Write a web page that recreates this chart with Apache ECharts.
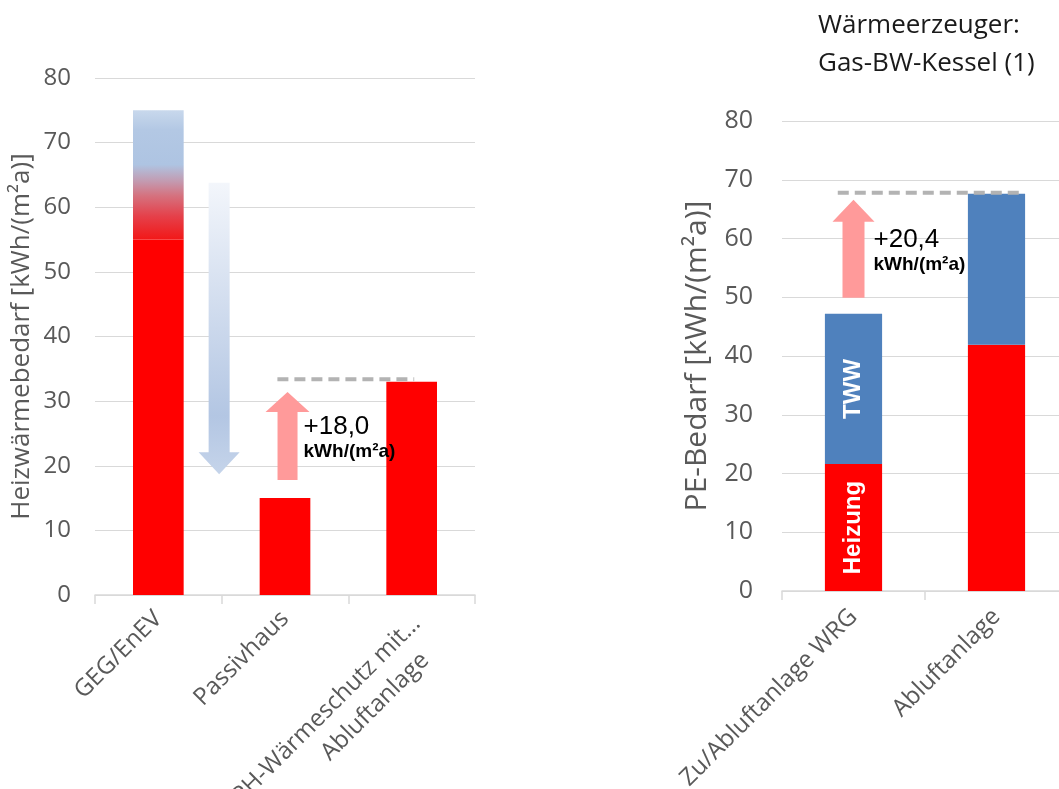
<!DOCTYPE html>
<html>
<head>
<meta charset="utf-8">
<script src="https://cdn.jsdelivr.net/npm/echarts@6/dist/echarts.min.js"></script>
<style>
  html, body { margin: 0; padding: 0; background: #ffffff; }
  #chart { width: 1059px; height: 789px; }
</style>
</head>
<body>
<div id="chart"></div>
<script>
// ---- Left panel: Heizwärmebedarf ----
const hwbCategories = ['GEG/EnEV', 'Passivhaus', 'PH-Wärmeschutz mit…\nAbluftanlage'];
const hwbBase = [55, 15, 33];          // solid red part
const hwbUpper = [20, null, null];     // faded upper part of GEG/EnEV (55 → 75)
const hwbTicks = [0, 10, 20, 30, 40, 50, 60, 70, 80];

// arrows: category position, start value, end value
const hwbReductionArrow = [{ at: 0.48, from: 63.8, to: 18.7 }];
const hwbIncreaseArrow = [{ at: 1.02, from: 17.8, to: 31.4 }];
// dashed reference line: from/to category position, value
const hwbRefLine = [{ x0: 0.94, x1: 2.02, value: 33.4 }];

// ---- Right panel: PE-Bedarf ----
const peCategories = ['Zu/Abluftanlage WRG', 'Abluftanlage'];
const peHeizung = [21.6, 41.9];
const peTww = [25.6, 25.7];
const peTicks = [0, 10, 20, 30, 40, 50, 60, 70, 80];
const peIncreaseArrow = [{ at: 0, from: 49.9, to: 66.6 }];
const peRefLine = [{ x0: -0.11, x1: 1.17, value: 67.8 }];

const hwbDelta = (hwbBase[2] - hwbBase[1]).toFixed(1).replace('.', ',');
const peDelta = ((peHeizung[1] + peTww[1]) - (peHeizung[0] + peTww[0])).toFixed(1).replace('.', ',');
// annotation text: category position, value of first line, value of second line
const hwbNote = [{ at: 1.02, top: 26.0, bottom: 22.1, text: '+' + hwbDelta }];
const peNote = [{ at: 0, top: 59.8, bottom: 55.5, text: '+' + peDelta }];

const RED = '#ff0000';
const BLUE = '#4f81bd';
const GRID_LINE = '#d9d9d9';
const AXIS_TEXT = '#595959';
const SANS = '"Open Sans", "Noto Sans", sans-serif';
const ARIAL = '"Liberation Sans", Arial, sans-serif';

function catX(api, at, value) {
  const p0 = api.coord([0, value]);
  const p1 = api.coord([1, value]);
  return p0[0] + (p1[0] - p0[0]) * at;
}

function arrowSeries(list, xIndex, yIndex, shaft, head, headLen, fill) {
  return {
    type: 'custom',
    xAxisIndex: xIndex,
    yAxisIndex: yIndex,
    z: 5,
    silent: true,
    data: list.map(a => [Math.round(a.at), a.from, a.to]),
    renderItem: (params, api) => {
      const a = list[params.dataIndex];
      const x = catX(api, a.at, a.from);
      const y0 = api.coord([0, a.from])[1];
      const y1 = api.coord([0, a.to])[1];
      const dir = y1 > y0 ? 1 : -1;
      const yb = y1 - dir * headLen;
      return {
        type: 'polygon',
        shape: {
          points: [
            [x - shaft / 2, y0], [x + shaft / 2, y0], [x + shaft / 2, yb],
            [x + head / 2, yb], [x, y1], [x - head / 2, yb], [x - shaft / 2, yb]
          ]
        },
        style: { fill: fill }
      };
    }
  };
}

function refLineSeries(list, xIndex, yIndex) {
  return {
    type: 'custom',
    xAxisIndex: xIndex,
    yAxisIndex: yIndex,
    z: 6,
    silent: true,
    data: list.map(l => [0, l.value]),
    renderItem: (params, api) => {
      const l = list[params.dataIndex];
      const y = api.coord([0, l.value])[1];
      return {
        type: 'line',
        shape: { x1: catX(api, l.x0, l.value), y1: y, x2: catX(api, l.x1, l.value), y2: y },
        style: { stroke: '#b3b3b3', lineWidth: 4, lineDash: [11, 6] }
      };
    }
  };
}

function noteSeries(list, xIndex, yIndex, dx) {
  return {
    type: 'custom',
    xAxisIndex: xIndex,
    yAxisIndex: yIndex,
    z: 7,
    silent: true,
    data: list.map(n => [0, n.top]),
    renderItem: (params, api) => {
      const n = list[params.dataIndex];
      const x = catX(api, n.at, n.top) + dx;
      return {
        type: 'group',
        children: [
          {
            type: 'text',
            style: {
              x: x, y: api.coord([0, n.top])[1], text: n.text,
              fill: '#000', font: '26px ' + ARIAL, textAlign: 'left', textVerticalAlign: 'middle'
            }
          },
          {
            type: 'text',
            style: {
              x: x, y: api.coord([0, n.bottom])[1], text: 'kWh/(m²a)',
              fill: '#000', font: 'bold 19px ' + ARIAL, textAlign: 'left', textVerticalAlign: 'middle'
            }
          }
        ]
      };
    }
  };
}

function valueAxis(gridIndex, fontSize, margin, name, nameSize, nameGap) {
  return {
    type: 'value',
    gridIndex: gridIndex,
    min: 0, max: 80, interval: 10,
    axisLine: { show: false },
    axisTick: { show: false },
    splitLine: { lineStyle: { color: GRID_LINE, width: 1 } },
    axisLabel: { color: AXIS_TEXT, fontSize: fontSize, fontFamily: SANS, margin: margin },
    name: name,
    nameLocation: 'middle',
    nameGap: nameGap,
    nameRotate: 90,
    nameTextStyle: { color: AXIS_TEXT, fontSize: nameSize, fontFamily: SANS }
  };
}

function categoryAxis(gridIndex, data, fontSize, margin) {
  return {
    type: 'category',
    gridIndex: gridIndex,
    data: data,
    axisLine: { lineStyle: { color: GRID_LINE, width: 1.5 } },
    axisTick: { show: true, length: 9, lineStyle: { color: GRID_LINE, width: 1.5 } },
    axisLabel: {
      interval: 0,
      rotate: 45,
      margin: margin,
      color: AXIS_TEXT,
      fontSize: fontSize,
      fontFamily: SANS,
      // two-line labels: a blank spacer row keeps the first line near the axis,
      // the second line is slightly indented from the right
      formatter: v => v.includes('\n')
        ? '{sp|\u00a0}\n' + v.split('\n').map((s, i) => '{l' + i + '|' + s + '}').join('\n')
        : v,
      rich: {
        sp: { fontSize: 10, lineHeight: 46 },
        l0: { fontSize: fontSize, fontFamily: SANS, color: AXIS_TEXT, lineHeight: 32 },
        l1: { fontSize: fontSize, fontFamily: SANS, color: AXIS_TEXT, lineHeight: 32, padding: [0, 20, 0, 0] }
      }
    }
  };
}

const upperGradient = new echarts.graphic.LinearGradient(0, 0, 0, 1, [
  { offset: 0.0, color: '#c8d8ec' },
  { offset: 0.15, color: '#b3c8e4' },
  { offset: 0.42, color: '#aec4e2' },
  { offset: 0.55, color: '#c39ab0' },
  { offset: 0.66, color: '#d5727f' },
  { offset: 0.82, color: '#e5404a' },
  { offset: 1.0, color: '#f21818' }
]);

const downGradient = new echarts.graphic.LinearGradient(0, 0, 0, 1, [
  { offset: 0, color: '#f3f6fb' },
  { offset: 0.8, color: '#b3c6e3' },
  { offset: 1, color: '#c5d4ea' }
]);

const chart = echarts.init(document.getElementById('chart'), null, { renderer: 'canvas' });

chart.setOption({
  animation: false,
  backgroundColor: '#ffffff',
  title: {
    text: 'Wärmeerzeuger:\nGas-BW-Kessel (1)',
    left: 813,
    top: 2,
    textStyle: { color: '#1a1a1a', fontSize: 26, fontWeight: 'normal', fontFamily: SANS, lineHeight: 38 }
  },
  grid: [
    { left: 95, top: 78, width: 380, height: 517, outerBoundsMode: 'none', containLabel: false },
    { left: 782, top: 121, width: 286, height: 470, outerBoundsMode: 'none', containLabel: false }
  ],
  xAxis: [
    categoryAxis(0, hwbCategories, 24, 20),
    categoryAxis(1, peCategories, 24, 22)
  ],
  yAxis: [
    valueAxis(0, 24, 24, 'Heizwärmebedarf [kWh/(m²a)]', 26, 60),
    valueAxis(1, 25, 29, 'PE-Bedarf [kWh/(m²a)]', 30, 70)
  ],
  series: [
    {
      name: 'Heizwärmebedarf',
      type: 'bar', xAxisIndex: 0, yAxisIndex: 0, stack: 'hwb',
      barWidth: '40%',
      itemStyle: { color: RED },
      data: hwbBase
    },
    {
      name: 'Heizwärmebedarf oben',
      type: 'bar', xAxisIndex: 0, yAxisIndex: 0, stack: 'hwb',
      barWidth: '40%',
      itemStyle: { color: upperGradient },
      data: hwbUpper
    },
    {
      name: 'Heizung',
      type: 'bar', xAxisIndex: 1, yAxisIndex: 1, stack: 'pe',
      barWidth: '40%',
      itemStyle: { color: RED },
      label: {
        show: false, position: 'inside', rotate: 90, color: '#ffffff',
        fontSize: 24, fontWeight: 'bold', fontFamily: ARIAL, formatter: '{a}'
      },
      data: peHeizung.map((v, i) => i === 0 ? { value: v, label: { show: true } } : v)
    },
    {
      name: 'TWW',
      type: 'bar', xAxisIndex: 1, yAxisIndex: 1, stack: 'pe',
      barWidth: '40%',
      itemStyle: { color: BLUE },
      label: {
        show: false, position: 'inside', rotate: 90, color: '#ffffff',
        fontSize: 24, fontWeight: 'bold', fontFamily: ARIAL, formatter: '{a}'
      },
      data: peTww.map((v, i) => i === 0 ? { value: v, label: { show: true } } : v)
    },
    arrowSeries(hwbReductionArrow, 0, 0, 21, 41, 22, downGradient),
    arrowSeries(hwbIncreaseArrow, 0, 0, 20, 44, 20, '#ff9a9a'),
    arrowSeries(peIncreaseArrow, 1, 1, 22, 42, 22, '#ff9a9a'),
    refLineSeries(hwbRefLine, 0, 0),
    refLineSeries(peRefLine, 1, 1),
    noteSeries(hwbNote, 0, 0, 16),
    noteSeries(peNote, 1, 1, 20)
  ]
});
</script>
</body>
</html>
